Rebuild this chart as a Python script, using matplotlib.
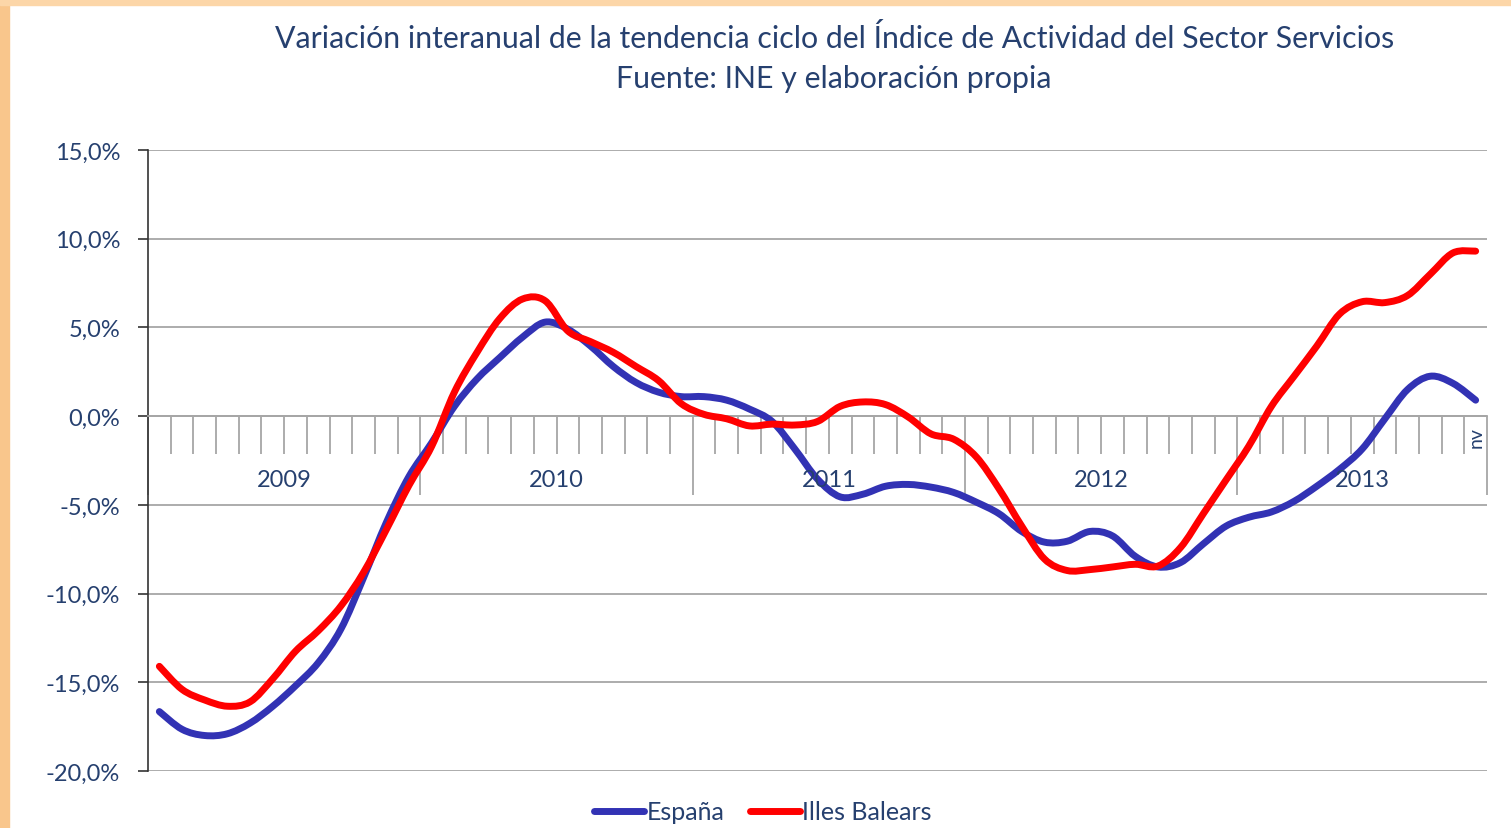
import matplotlib.pyplot as plt
from matplotlib.patches import Rectangle, PathPatch
from matplotlib.path import Path
from matplotlib.lines import Line2D

plt.rcParams['font.family'] = ['Lato', 'DejaVu Sans']

# datos mensuales ene-2009 .. nov-2013 (%)
years = ['2009', '2010', '2011', '2012', '2013']
months_per_year = [12, 12, 12, 12, 11]
last_label = 'nv'

espana = [-16.65, -17.65, -18.0, -17.9, -17.3, -16.35, -15.2, -13.9, -12.0, -9.1, -6.0, -3.4,
          -1.5, 0.55, 2.1, 3.3, 4.45, 5.3, 4.9, 3.95, 2.8, 1.9, 1.35, 1.1,
          1.1, 0.9, 0.4, -0.3, -1.85, -3.55, -4.55, -4.4, -3.95, -3.85, -4.0, -4.3,
          -4.85, -5.5, -6.5, -7.1, -7.05, -6.5, -6.75, -7.9, -8.5, -8.25, -7.2, -6.2,
          -5.7, -5.4, -4.8, -3.95, -3.0, -1.85, -0.15, 1.5, 2.25, 1.85, 0.9]
baleares = [-14.1, -15.4, -16.0, -16.35, -16.1, -14.8, -13.25, -12.1, -10.7, -8.8, -6.4, -3.9,
            -1.7, 1.35, 3.6, 5.5, 6.6, 6.5, 4.8, 4.2, 3.6, 2.8, 2.0, 0.7,
            0.1, -0.15, -0.55, -0.45, -0.5, -0.3, 0.55, 0.8, 0.65, -0.05, -1.0, -1.3,
            -2.3, -4.1, -6.2, -8.05, -8.7, -8.65, -8.5, -8.35, -8.45, -7.4, -5.5, -3.6,
            -1.7, 0.55, 2.25, 3.95, 5.75, 6.45, 6.4, 6.8, 8.0, 9.2, 9.3]

yticks = [15, 10, 5, 0, -5, -10, -15, -20]

txt_color = '#26406f'
grid_color = '#a6a6a6'
c_esp = '#3232b4'
c_bal = '#ff0000'


def smooth_path(ys):
    # linea suavizada tipo Excel (bezier catmull-rom sobre los mismos puntos)
    pts = list(enumerate(ys))
    verts = [pts[0]]
    codes = [Path.MOVETO]
    n = len(pts)
    for i in range(n - 1):
        p0 = pts[max(i - 1, 0)]
        p1 = pts[i]
        p2 = pts[i + 1]
        p3 = pts[min(i + 2, n - 1)]
        c1 = (p1[0] + (p2[0] - p0[0]) / 6, p1[1] + (p2[1] - p0[1]) / 6)
        c2 = (p2[0] - (p3[0] - p1[0]) / 6, p2[1] - (p3[1] - p1[1]) / 6)
        verts += [c1, c2, p2]
        codes += [Path.CURVE4] * 3
    return Path(verts, codes)


fig = plt.figure(figsize=(15.11, 8.29), dpi=100)
ax = fig.add_axes([148 / 1511, 1 - 772 / 829, (1487 - 148) / 1511, (772 - 151) / 829])

for ys, col in [(espana, c_esp), (baleares, c_bal)]:
    ax.add_patch(PathPatch(smooth_path(ys), fill=False, edgecolor=col, lw=5,
                           capstyle='round', joinstyle='round', zorder=3))

ax.set_xlim(-0.5, len(espana) - 0.5)
ax.set_ylim(-20, 15)
ax.set_yticks(yticks)
ax.set_yticklabels([('%.1f%%' % v).replace('.', ',') for v in yticks], fontsize=17, color=txt_color)
ax.tick_params(axis='y', direction='out', length=7, width=1.2, color='#333333', pad=13)
ax.yaxis.grid(True, color=grid_color, lw=1.3)
ax.set_axisbelow(True)

# eje de categorias en 0
bounds = [-0.5]
for n in months_per_year:
    bounds.append(bounds[-1] + n)
ax.set_xticks(bounds)
ax.set_xticks([i - 0.5 for i in range(1, len(espana))], minor=True)
ax.tick_params(axis='x', which='major', direction='out', length=57, width=1.3, color=grid_color, labelbottom=False)
ax.tick_params(axis='x', which='minor', direction='out', length=27, width=1.3, color=grid_color)
ax.spines['bottom'].set_position(('data', 0))
ax.spines['bottom'].set_color(grid_color)
ax.spines['bottom'].set_linewidth(1.3)
ax.spines['left'].set_color('#333333')
ax.spines['left'].set_linewidth(1.2)
ax.spines['top'].set_visible(False)
ax.spines['right'].set_visible(False)

for i, yr in enumerate(years):
    c = (bounds[i] + bounds[i + 1]) / 2
    ax.text(c, -3.55, yr, ha='center', va='center', fontsize=17, color=txt_color)
ax.text(len(espana) - 1, -1.15, last_label, rotation=90, ha='center', va='center', fontsize=14, color=txt_color)

fig.text(0.552, 1 - 39 / 829, 'Variación interanual de la tendencia ciclo del Índice de Actividad del Sector Servicios',
         ha='center', va='center', fontsize=21.8, color=txt_color)
fig.text(0.552, 1 - 79 / 829, 'Fuente: INE y elaboración propia',
         ha='center', va='center', fontsize=21.8, color=txt_color)

handles = [Line2D([], [], color=c_esp, lw=5, solid_capstyle='round'),
           Line2D([], [], color=c_bal, lw=5, solid_capstyle='round')]
fig.legend(handles, ['España', 'Illes Balears'], loc='center', bbox_to_anchor=(763 / 1511, 1 - 813 / 829),
           ncol=2, frameon=False, fontsize=18, handlelength=2.0, handletextpad=0.1, columnspacing=1.0,
           labelcolor=txt_color)

# marco naranja
fig.patches.append(Rectangle((0, 0), 9 / 1511, 1, transform=fig.transFigure, color='#f9c68c', zorder=0))
fig.patches.append(Rectangle((0, 1 - 6 / 829), 1, 6 / 829, transform=fig.transFigure, color='#fcd6a8', zorder=0))

fig.savefig('out.png', dpi=100)
